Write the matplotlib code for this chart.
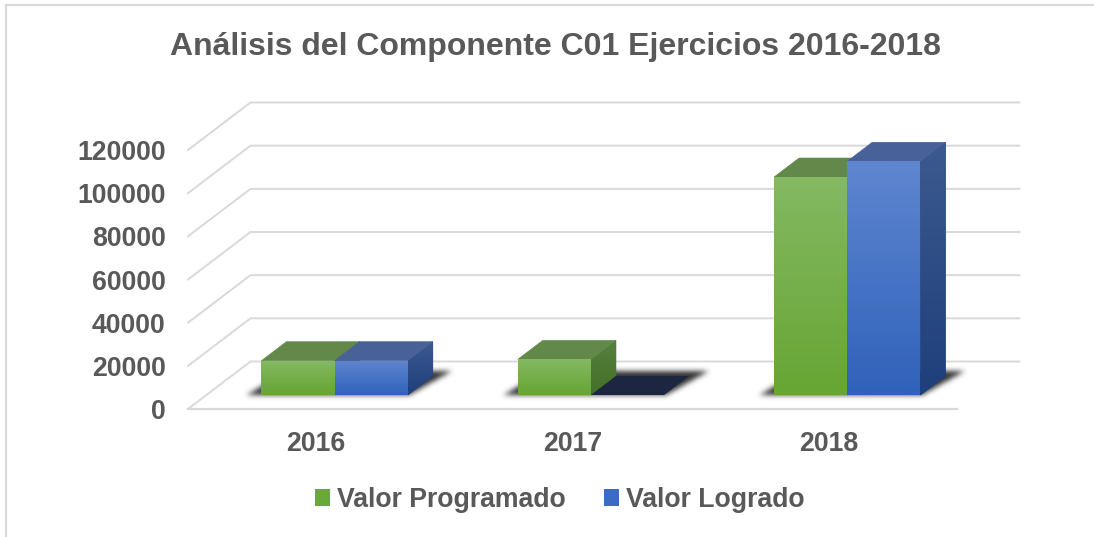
import numpy as np
import matplotlib
matplotlib.use('Agg')
import matplotlib.pyplot as plt
from matplotlib.lines import Line2D
from matplotlib.patches import Polygon, Patch

plt.rcParams['font.family'] = ['Liberation Sans', 'DejaVu Sans']

years = ['2016', '2017', '2018']
valor_programado = [15900, 16500, 101000]
valor_logrado = [15900, 0, 108300]
y_ticks = [0, 20000, 40000, 60000, 80000, 100000, 120000]

W, H = 1094, 537
GREY = '#595959'
LINE = '#d9d9d9'
BAR_W = 0.2855
# floor depth of the wall, and where the bars stand on it (pixels)
WALL_DX, WALL_DY = 62.5, 47.5
BAR_DX, BAR_DY = 18.4, 14
DEPTH_DX, DEPTH_DY = 25, 19

green = dict(front=('#84b962', '#67a534'), side=('#56803f', '#437027'), top='#62894a')
blue = dict(front=('#5f86d0', '#2f62ba'), side=('#3c5a8f', '#1f3f7c'), top='#486299')


def gradient(ax, poly, colors, extent, z):
    c0 = np.array(matplotlib.colors.to_rgb(colors[0]))
    c1 = np.array(matplotlib.colors.to_rgb(colors[1]))
    t = np.linspace(0, 1, 64)[:, None, None]
    img = c0 * (1 - t) + c1 * t
    im = ax.imshow(img, extent=extent, aspect='auto', origin='upper', zorder=z,
                   interpolation='bilinear')
    im.set_clip_path(poly)
    im.set_clip_box(ax.figure.bbox)


def draw_bar(ax, x0, x1, v, st, z):
    px = ax.transData.inverted()
    # depth expressed in data units so all the faces share one transform
    o = px.transform((0, 0))
    d = px.transform((BAR_DX + DEPTH_DX, BAR_DY + DEPTH_DY)) - o
    f = px.transform((BAR_DX, BAR_DY)) - o
    a0, a1 = x0 + f[0], x1 + f[0]
    b0, b1 = x0 + d[0], x1 + d[0]
    y_f, y_b = f[1], d[1]
    if v == 0:
        ax.add_patch(Polygon([(a0, y_f), (a1, y_f), (b1, y_b), (b0, y_b)],
                             facecolor='#1c2640', edgecolor='none', zorder=z, clip_on=False))
        return
    side_xy = [(a1, y_f), (b1, y_b), (b1, y_b + v), (a1, y_f + v)]
    front_xy = [(a0, y_f), (a1, y_f), (a1, y_f + v), (a0, y_f + v)]
    top_xy = [(a0, y_f + v), (a1, y_f + v), (b1, y_b + v), (b0, y_b + v)]
    # solid faces underneath so no white seams show between the gradients
    side = Polygon(side_xy, facecolor=st['side'][1], edgecolor=st['side'][1], lw=0.5,
                   zorder=z, clip_on=False)
    ax.add_patch(side)
    gradient(ax, side, st['side'], (a1, b1, y_f, y_b + v), z + 0.05)
    ax.add_patch(Polygon(top_xy, facecolor=st['top'], edgecolor=st['top'], lw=0.4,
                         zorder=z + 0.1, clip_on=False))
    front = Polygon(front_xy, facecolor=st['front'][1], edgecolor='none', zorder=z + 0.2, clip_on=False)
    ax.add_patch(front)
    gradient(ax, front, st['front'], (a0, a1, y_f, y_f + v), z + 0.25)


def blur(a, sigma):
    r = int(3 * sigma)
    k = np.exp(-0.5 * (np.arange(-r, r + 1) / sigma) ** 2)
    k /= k.sum()
    a = np.apply_along_axis(np.convolve, 0, a, k, mode='same')
    return np.apply_along_axis(np.convolve, 1, a, k, mode='same')


def draw_shadow(ax, x0, x1, z):
    # blurred footprint on the floor, worked out in pixels
    xl, y0 = ax.transData.transform((x0, 0))
    xr = ax.transData.transform((x1, 0))[0]
    xl, xr = xl + BAR_DX, xr + BAR_DX
    y_low = y0 + BAR_DY - 0.5
    y_high = y_low + DEPTH_DY + 4
    gx = np.arange(xl - 40, xr + 75)
    gy = np.arange(y_low - 20, y_high + 20)
    X, Y = np.meshgrid(gx, gy)
    t = (Y - y_low) / (y_high - y_low)
    left = (xl - 14) + t * 39
    right = (xr + 2) + t * 41
    mask = ((t >= 0) & (t <= 1) & (X >= left) & (X <= right)).astype(float)
    rgba = np.zeros(mask.shape + (4,))
    rgba[..., :3] = matplotlib.colors.to_rgb('#202020')
    rgba[..., 3] = 0.92 * blur(mask, 2.6)
    inv = ax.transData.inverted()
    e0 = inv.transform((gx[0], gy[0]))
    e1 = inv.transform((gx[-1] + 1, gy[-1] + 1))
    ax.imshow(rgba, extent=(e0[0], e1[0], e0[1], e1[1]), origin='lower', aspect='auto',
              zorder=z, interpolation='bilinear', clip_on=False)


fig = plt.figure(figsize=(W / 100, H / 100), dpi=100)
# axes = the front edge of the chart box, in pixels
ax = fig.add_axes([188 / W, 1 - 409 / H, 769 / W, 259 / H])
ax.set_xlim(-0.5, 2.5)
ax.set_ylim(0, 120000)
ax.patch.set_alpha(0)

# outer chart frame, only top and left are inside the picture
fig.add_artist(Line2D([6 / W, 6 / W, 1], [0, 1 - 5 / H, 1 - 5 / H], color=LINE, lw=1.6,
                      solid_joinstyle='miter'))

# gridlines: side wall + back wall
px = ax.transData.inverted()
o = px.transform((0, 0))
wall = px.transform((WALL_DX, WALL_DY)) - o
for v in y_ticks:
    ax.plot([-0.5, -0.5 + wall[0], 2.5 + wall[0]], [v, v + wall[1], v + wall[1]],
            color=LINE, lw=1.4, zorder=1, clip_on=False, solid_joinstyle='miter')
ax.plot([-0.5, 2.5], [0, 0], color=LINE, lw=1.6, zorder=1, clip_on=False)

x = np.arange(len(years))
for i in x:
    draw_shadow(ax, i - BAR_W, i + BAR_W, 2)
for i in x:
    draw_bar(ax, i - BAR_W, i, valor_programado[i], green, 4)
    draw_bar(ax, i, i + BAR_W, valor_logrado[i], blue, 5)

ax.set_xlim(-0.5, 2.5)
ax.set_ylim(0, 120000)
ax.set_xticks(x, years)
ax.set_yticks(y_ticks, [str(v) for v in y_ticks])
ax.tick_params(length=0, labelcolor=GREY, labelsize=19.2)
ax.tick_params(axis='y', pad=16)
ax.tick_params(axis='x', pad=16)
for lab in ax.get_xticklabels() + ax.get_yticklabels():
    lab.set_fontweight('bold')
for s in ax.spines.values():
    s.set_visible(False)

fig.text(556 / W, 1 - 47 / H, 'Análisis del Componente C01 Ejercicios 2016-2018',
         ha='center', va='center', fontsize=23.0, fontweight='bold', color=GREY)

handles = [Patch(facecolor='#6aa83a', label='Valor Programado'),
           Patch(facecolor='#3a6cc4', label='Valor Logrado')]
fig.legend(handles=handles, loc='center', bbox_to_anchor=(559.5 / W, 1 - 500 / H), ncol=2,
           frameon=False, handlelength=0.56, handleheight=0.56, handletextpad=0.27,
           columnspacing=1.43, prop={'size': 19.2, 'weight': 'bold'}, labelcolor=GREY)

fig.savefig('out.png', dpi=100)
